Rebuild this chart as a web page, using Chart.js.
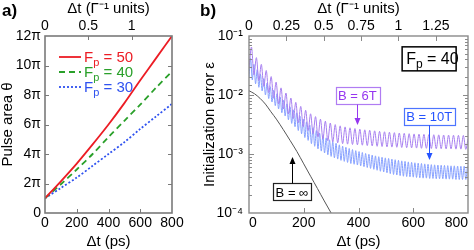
<!DOCTYPE html>
<html>
<head>
<meta charset="utf-8">
<script src="https://cdn.jsdelivr.net/npm/chart.js@4.4.1/dist/chart.umd.min.js"></script>
<style>
  body { margin: 0; background: #fff; font-family: "Liberation Sans", Arial, sans-serif; }
  #wrap { position: relative; width: 474px; height: 250px; overflow: hidden; }
  #boxA { position: absolute; left: 0; top: 0; }
  #boxB { position: absolute; left: 195px; top: 0; }
  .tag { position: absolute; top: 0; font-weight: bold; font-size: 17px; line-height: 22px; z-index: 2; }
</style>
</head>
<body>
<div id="wrap">
  <canvas id="boxA" width="195" height="250"></canvas>
  <canvas id="boxB" width="279" height="250"></canvas>
  <div class="tag" style="left:2px">a)</div>
  <div class="tag" style="left:200px">b)</div>
</div>
<script>
// ----- panel a : pulse area (units of pi) vs delay -----
const tPs = [0, 100, 200, 300, 400, 500, 600, 700, 800];
const thetaFp50 = [1, 2.15, 3.35, 4.65, 6.0, 7.45, 9.0, 10.5, 12];
const thetaFp40 = [1, 1.95, 2.95, 4.0, 5.15, 6.25, 7.35, 8.5, 9.6];
const thetaFp30 = [1, 1.7, 2.4, 3.2, 4.0, 4.8, 5.7, 6.55, 7.4];
const fpValues = ['50', '40', '30'];

// ----- panel b : initialization error vs delay, Fp = 40 -----
// [t (ps), error]
const eps6T = [
  [0,2.8e-2],[9,6.5e-2],[18,2.2e-2],[27,4.3e-2],[36,1.75e-2],[45,3.3e-2],[54,1.4e-2],[63,2.6e-2],
  [72,1.1e-2],[81,2.05e-2],[90,8.8e-3],[99,1.65e-2],[108,7.1e-3],[117,1.32e-2],[126,5.8e-3],[135,1.08e-2],
  [144,4.8e-3],[153,8.9e-3],[162,4.0e-3],[171,7.5e-3],[180,3.4e-3],[189,6.4e-3],[198,2.9e-3],[207,5.5e-3],
  [216,2.5e-3],[225,4.8e-3],[234,2.2e-3],[243,4.3e-3],[252,1.95e-3],[261,3.9e-3],[270,1.8e-3],[279,3.6e-3],
  [288,1.68e-3],[297,3.35e-3],[306,1.6e-3],[315,3.15e-3],[324,1.55e-3],[333,3.0e-3],[342,1.5e-3],[351,2.88e-3],
  [360,1.47e-3],[369,2.78e-3],[378,1.45e-3],[387,2.7e-3],[396,1.43e-3],[405,2.63e-3],[414,1.41e-3],[423,2.57e-3],
  [432,1.39e-3],[441,2.52e-3],[450,1.37e-3],[459,2.47e-3],[468,1.35e-3],[477,2.42e-3],[486,1.34e-3],[495,2.38e-3],
  [504,1.32e-3],[513,2.34e-3],[522,1.31e-3],[531,2.3e-3],[540,1.3e-3],[549,2.27e-3],[558,1.29e-3],[567,2.24e-3],
  [576,1.28e-3],[585,2.21e-3],[594,1.27e-3],[603,2.19e-3],[612,1.26e-3],[621,2.17e-3],[630,1.25e-3],[639,2.15e-3],
  [648,1.25e-3],[657,2.13e-3],[666,1.24e-3],[675,2.12e-3],[684,1.23e-3],[693,2.11e-3],[702,1.23e-3],[711,2.1e-3],
  [720,1.22e-3],[729,2.09e-3],[738,1.22e-3],[747,2.08e-3],[756,1.21e-3],[765,2.07e-3],[774,1.21e-3],[783,2.06e-3],
  [792,1.2e-3],[800,1.8e-3]
];
const eps10T = [
  [0,2.0e-2],[6,4.2e-2],[12,1.8e-2],[18,3.3e-2],[24,1.55e-2],[30,2.7e-2],[36,1.35e-2],[42,2.25e-2],
  [48,1.17e-2],[54,1.9e-2],[60,1.0e-2],[66,1.6e-2],[72,8.7e-3],[78,1.38e-2],[84,7.6e-3],[90,1.2e-2],
  [96,6.6e-3],[102,1.05e-2],[108,5.8e-3],[114,9.2e-3],[120,5.0e-3],[126,8.1e-3],[132,4.4e-3],[138,7.1e-3],
  [144,3.8e-3],[150,6.3e-3],[156,3.3e-3],[162,5.6e-3],[168,2.9e-3],[174,5.0e-3],[180,2.5e-3],[186,4.4e-3],
  [192,2.2e-3],[198,3.9e-3],[204,1.9e-3],[210,3.5e-3],[216,1.7e-3],[222,3.1e-3],[228,1.5e-3],[234,2.8e-3],
  [240,1.35e-3],[246,2.5e-3],[252,1.22e-3],[258,2.25e-3],[264,1.12e-3],[270,2.05e-3],[276,1.04e-3],[282,1.88e-3],
  [288,9.7e-4],[294,1.74e-3],[300,9.1e-4],[306,1.62e-3],[312,8.6e-4],[318,1.52e-3],[324,8.2e-4],[330,1.43e-3],
  [336,7.8e-4],[342,1.36e-3],[348,7.5e-4],[354,1.3e-3],[360,7.2e-4],[366,1.24e-3],[372,6.9e-4],[378,1.19e-3],
  [384,6.7e-4],[390,1.14e-3],[396,6.5e-4],[402,1.1e-3],[408,6.3e-4],[414,1.06e-3],[420,6.1e-4],[426,1.02e-3],
  [432,5.9e-4],[438,9.9e-4],[444,5.7e-4],[450,9.6e-4],[456,5.5e-4],[462,9.3e-4],[468,5.3e-4],[474,9.0e-4],
  [480,5.1e-4],[486,8.8e-4],[492,4.95e-4],[498,8.6e-4],[504,4.8e-4],[510,8.4e-4],[516,4.65e-4],[522,8.2e-4],
  [528,4.5e-4],[534,8.0e-4],[540,4.4e-4],[546,7.8e-4],[552,4.3e-4],[558,7.65e-4],[564,4.2e-4],[570,7.5e-4],
  [576,4.15e-4],[582,7.35e-4],[588,4.1e-4],[594,7.2e-4],[600,4.05e-4],[606,7.1e-4],[612,4.0e-4],[618,7.0e-4],
  [624,3.95e-4],[630,6.9e-4],[636,3.9e-4],[642,6.8e-4],[648,3.9e-4],[654,6.7e-4],[660,3.85e-4],[666,6.6e-4],
  [672,3.85e-4],[678,6.55e-4],[684,3.8e-4],[690,6.5e-4],[696,3.8e-4],[702,6.45e-4],[708,3.8e-4],[714,6.4e-4],
  [720,3.75e-4],[726,6.35e-4],[732,3.75e-4],[738,6.3e-4],[744,3.75e-4],[750,6.3e-4],[756,3.7e-4],[762,6.25e-4],
  [768,3.7e-4],[774,6.2e-4],[780,3.7e-4],[786,6.2e-4],[792,3.7e-4],[798,6.2e-4]
];
const epsInf = [
  [0,1.18e-2],[20,1.05e-2],[40,8.8e-3],[60,7.0e-3],[80,5.2e-3],[100,3.9e-3],[125,2.6e-3],[150,1.7e-3],
  [175,1.1e-3],[200,6.8e-4],[225,4.2e-4],[250,2.6e-4],[275,1.6e-4],[300,1.0e-4],[325,6.0e-5]
];
const epsDecades = [1e-4, 1e-3, 1e-2, 1e-1];
const epsDecadeLabels = ['10⁻⁴', '10⁻³', '10⁻²', '10⁻¹'];

const gammaUnitsMax = 1.465; // 800 ps expressed in 1/Gamma

Chart.defaults.font.family = '"Liberation Sans", Arial, sans-serif';
Chart.defaults.color = '#000';

const toXY = pairs => pairs.map(p => ({ x: p[0], y: p[1] }));
const plainNum = v => String(Math.round(v * 100) / 100);

// inward tick marks + frame
const frameTicks = {
  id: 'frameTicks',
  afterDatasetsDraw(chart, args, opts) {
    const { ctx, chartArea: ca } = chart;
    ctx.save();
    ctx.strokeStyle = opts.color;
    ctx.lineWidth = 1;
    ctx.beginPath();
    Object.values(chart.scales).forEach(s => {
      if (s.isHorizontal()) {
        const top = s.position === 'top';
        const y0 = top ? ca.top : ca.bottom;
        s.ticks.forEach(t => {
          const x = Math.round(s.getPixelForValue(t.value)) + 0.5;
          if (x <= ca.left + 2 || x >= ca.right - 2) return;
          ctx.moveTo(x, y0);
          ctx.lineTo(x, y0 + (top ? opts.len : -opts.len));
        });
      } else {
        s.ticks.forEach(t => {
          const y = Math.round(s.getPixelForValue(t.value)) + 0.5;
          if (y <= ca.top + 2 || y >= ca.bottom - 2) return;
          const len = (s.type === 'logarithmic' && !t.major) ? opts.len * 0.6 : opts.len;
          ctx.moveTo(ca.left, y); ctx.lineTo(ca.left + len, y);
          ctx.moveTo(ca.right, y); ctx.lineTo(ca.right - len, y);
        });
      }
    });
    ctx.stroke();
    ctx.lineWidth = opts.width;
    ctx.strokeRect(ca.left, ca.top, ca.width, ca.height);
    ctx.restore();
  }
};

// text with a subscript p : "F" + "p" + rest
function drawFp(ctx, x, y, rest, size, color) {
  ctx.fillStyle = color;
  ctx.textBaseline = 'alphabetic';
  ctx.textAlign = 'left';
  ctx.font = size + 'px "Liberation Sans", Arial, sans-serif';
  ctx.fillText('F', x, y);
  let w = ctx.measureText('F').width;
  ctx.font = Math.round(size * 0.72) + 'px "Liberation Sans", Arial, sans-serif';
  ctx.fillText('p', x + w, y + size * 0.28);
  w += ctx.measureText('p').width;
  ctx.font = size + 'px "Liberation Sans", Arial, sans-serif';
  ctx.fillText(rest, x + w, y);
  return w + ctx.measureText(rest).width;
}

const legendA = {
  id: 'legendA',
  afterDraw(chart) {
    const { ctx, chartArea: ca } = chart;
    chart.data.datasets.forEach((ds, i) => {
      const y = ca.top + 21 + i * 15;
      const x0 = ca.left + 14;
      ctx.save();
      ctx.strokeStyle = ds.borderColor;
      ctx.lineWidth = ds.borderWidth;
      ctx.setLineDash(ds.borderDash || []);
      ctx.beginPath();
      ctx.moveTo(x0, y); ctx.lineTo(x0 + 22, y);
      ctx.stroke();
      ctx.setLineDash([]);
      drawFp(ctx, x0 + 25, y + 5, ' = ' + fpValues[i], 15, ds.borderColor);
      ctx.restore();
    });
  }
};

// annotation boxes with arrows in panel b
const notesB = [
  { text: 'B = 6T', t: 396, eps: 9.8e-3, color: '#9636f0', border: '#b07cf2', arrowTo: 3.1e-3 },
  { text: 'B = 10T', t: 658, eps: 4.4e-3, color: '#2453ff', border: '#4d74ff', arrowTo: 7.9e-4 },
  { text: 'B = ∞', t: 157, eps: 2.27e-4, color: '#000', border: '#222', arrowTo: 8.9e-4 }
];
const notesPlugin = {
  id: 'notesB',
  afterDraw(chart) {
    const { ctx } = chart;
    const xs = chart.scales.x, ys = chart.scales.y;
    ctx.save();
    ctx.font = '13px "Liberation Sans", Arial, sans-serif';
    notesB.forEach(n => {
      const cx = xs.getPixelForValue(n.t);
      const cy = ys.getPixelForValue(n.eps);
      const w = ctx.measureText(n.text).width + 5;
      const h = 17;
      ctx.fillStyle = '#fff';
      ctx.fillRect(cx - w / 2, cy - h / 2, w, h);
      ctx.strokeStyle = n.border;
      ctx.lineWidth = 1.2;
      ctx.strokeRect(Math.round(cx - w / 2) + 0.5, Math.round(cy - h / 2) + 0.5, Math.round(w), h);
      ctx.fillStyle = n.color;
      ctx.textAlign = 'center';
      ctx.textBaseline = 'middle';
      ctx.fillText(n.text, cx, cy + 1);
      // arrow
      const ty = ys.getPixelForValue(n.arrowTo);
      const down = ty > cy;
      const sy = down ? cy + h / 2 + 0.5 : cy - h / 2;
      const ax = Math.round(cx) + 0.5;
      ctx.strokeStyle = n.color;
      ctx.lineWidth = 1;
      ctx.beginPath();
      ctx.moveTo(ax, sy);
      ctx.lineTo(ax, ty + (down ? -5 : 5));
      ctx.stroke();
      ctx.fillStyle = n.color;
      ctx.beginPath();
      ctx.moveTo(ax, ty);
      ctx.lineTo(ax - 3, ty + (down ? -7 : 7));
      ctx.lineTo(ax + 3, ty + (down ? -7 : 7));
      ctx.closePath();
      ctx.fill();
    });
    // Fp box
    const fx = xs.getPixelForValue(658), fy = ys.getPixelForValue(4.1e-2);
    ctx.fillStyle = '#fff';
    ctx.fillRect(fx - 27, fy - 12, 54, 24);
    ctx.strokeStyle = '#000';
    ctx.lineWidth = 1.5;
    ctx.strokeRect(fx - 27, fy - 12, 54, 24);
    drawFp(ctx, fx - 23, fy + 5, ' = 40', 16, '#000');
    ctx.restore();
  }
};

const titleFont = { size: 15, lineHeight: 1.0 };
const tickFont = { size: 14 };

// ----- chart a -----
new Chart(document.getElementById('boxA'), {
  type: 'line',
  data: {
    labels: tPs,
    datasets: [
      { label: 'Fp = 50', data: thetaFp50, borderColor: '#ec1c24', borderWidth: 1.8 },
      { label: 'Fp = 40', data: thetaFp40, borderColor: '#2aa02a', borderWidth: 1.8, borderDash: [6, 4] },
      { label: 'Fp = 30', data: thetaFp30, borderColor: '#2f52f0', borderWidth: 1.8, borderDash: [2, 2] }
    ]
  },
  options: {
    responsive: false,
    animation: false,
    layout: { padding: { left: 0, right: 23, top: 0, bottom: 0 } },
    elements: { point: { radius: 0 }, line: { tension: 0.3 } },
    plugins: { legend: { display: false }, tooltip: { enabled: false }, frameTicks: { color: '#7a7a7a', width: 1.6, len: 4 } },
    scales: {
      x: {
        type: 'linear', position: 'bottom', min: 0, max: 800,
        grid: { display: false, drawTicks: false }, border: { display: false },
        ticks: { stepSize: 200, padding: 2, font: tickFont, maxRotation: 0 },
        title: { display: true, text: 'Δt (ps)', font: titleFont, padding: { top: 0, bottom: 1 } },
        afterFit: s => { s.height = 37; s.paddingLeft = 0; s.paddingRight = 0; }
      },
      xTop: {
        type: 'linear', position: 'top', min: 0, max: gammaUnitsMax,
        grid: { display: false, drawTicks: false }, border: { display: false },
        ticks: { stepSize: 0.5, includeBounds: false, padding: 1, font: tickFont, maxRotation: 0, callback: plainNum },
        title: { display: true, text: 'Δt (Γ⁻¹ units)', font: titleFont, padding: { top: 1.5, bottom: 0 } },
        afterFit: s => { s.height = 36; s.paddingLeft = 0; s.paddingRight = 0; }
      },
      y: {
        type: 'linear', min: 0, max: 12,
        grid: { display: false, drawTicks: false }, border: { display: false },
        ticks: { stepSize: 2, padding: 4, font: tickFont, callback: v => v === 0 ? '0' : v + 'π' },
        title: { display: true, text: 'Pulse area θ', font: titleFont, padding: { top: 0, bottom: 0 } },
        afterFit: s => { s.width = 45; }
      }
    }
  },
  plugins: [frameTicks, legendA]
});

// ----- chart b -----
new Chart(document.getElementById('boxB'), {
  type: 'line',
  data: {
    datasets: [
      { label: 'B = 6T', data: toXY(eps6T), borderColor: '#a77ff0', borderWidth: 1, cubicInterpolationMode: 'monotone' },
      { label: 'B = 10T', data: toXY(eps10T), borderColor: '#86a0ff', borderWidth: 1, cubicInterpolationMode: 'monotone' },
      { label: 'B = ∞', data: toXY(epsInf), borderColor: '#555', borderWidth: 1, tension: 0.3 }
    ]
  },
  options: {
    responsive: false,
    animation: false,
    layout: { padding: { left: 0, right: 6, top: 0, bottom: 0 } },
    elements: { point: { radius: 0 } },
    plugins: { legend: { display: false }, tooltip: { enabled: false }, frameTicks: { color: '#8a8a8a', width: 1.4, len: 5 } },
    scales: {
      x: {
        type: 'linear', position: 'bottom', min: 0, max: 800,
        grid: { display: false, drawTicks: false }, border: { display: false },
        ticks: { stepSize: 200, padding: 2, font: tickFont, maxRotation: 0, align: 'inner' },
        title: { display: true, text: 'Δt (ps)', font: titleFont, padding: { top: 0, bottom: 1 } },
        afterFit: s => { s.height = 37; s.paddingLeft = 0; s.paddingRight = 0; }
      },
      xTop: {
        type: 'linear', position: 'top', min: 0, max: gammaUnitsMax,
        grid: { display: false, drawTicks: false }, border: { display: false },
        ticks: { stepSize: 0.25, includeBounds: false, padding: 1, font: tickFont, maxRotation: 0, callback: plainNum },
        title: { display: true, text: 'Δt (Γ⁻¹ units)', font: titleFont, padding: { top: 1.5, bottom: 0 } },
        afterFit: s => { s.height = 36; s.paddingLeft = 0; s.paddingRight = 0; }
      },
      y: {
        type: 'logarithmic', min: 1e-4, max: 1e-1,
        grid: { display: false, drawTicks: false }, border: { display: false },
        ticks: {
          autoSkip: false, padding: 6, font: tickFont,
          callback: v => {
            const i = epsDecades.findIndex(d => Math.abs(v / d - 1) < 1e-6);
            return i >= 0 ? epsDecadeLabels[i] : '';
          }
        },
        title: { display: true, text: 'Initialization error ε', font: titleFont, padding: { top: 7.5, bottom: 0 } },
        afterFit: s => { s.width = 54; }
      }
    }
  },
  plugins: [frameTicks, notesPlugin]
});
</script>
</body>
</html>
